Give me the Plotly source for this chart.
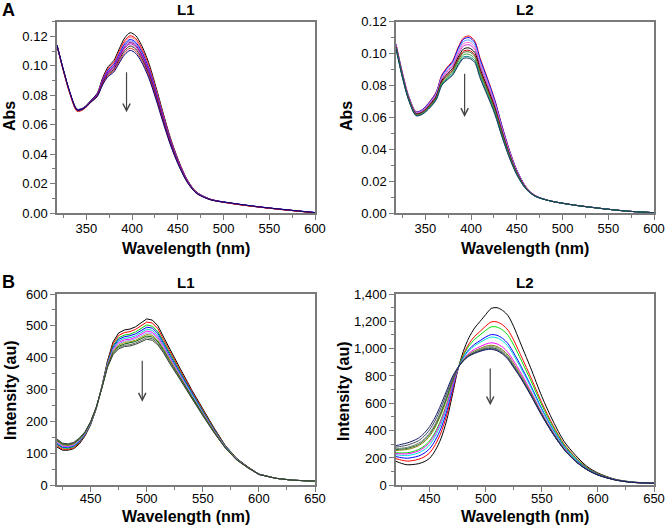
import plotly.graph_objects as go

# ---------------- Panel A : absorbance ----------------
wl_abs = [318, 325, 332, 340, 347, 355, 362, 368, 374, 380, 386, 392, 398, 404, 410,
          418, 426, 434, 442, 450, 460, 470, 485, 510, 540, 570, 600]

abs_L1_0 = [0.1140, 0.0970, 0.0820, 0.0705, 0.0715, 0.0765, 0.0815, 0.0920, 0.0995, 0.1035, 0.1115, 0.1190, 0.1225, 0.1205, 0.1145, 0.1025, 0.0860, 0.0680, 0.0510, 0.0370, 0.0230, 0.0145, 0.0095, 0.0065, 0.0040, 0.0020, 0.0002]
abs_L1_1 = [0.1135, 0.0965, 0.0812, 0.0695, 0.0708, 0.0760, 0.0808, 0.0910, 0.0984, 0.1022, 0.1099, 0.1171, 0.1205, 0.1185, 0.1126, 0.1008, 0.0846, 0.0669, 0.0502, 0.0364, 0.0227, 0.0143, 0.0094, 0.0064, 0.0040, 0.0020, 0.0002]
abs_L1_2 = [0.1138, 0.0968, 0.0815, 0.0692, 0.0706, 0.0758, 0.0806, 0.0906, 0.0978, 0.1015, 0.1091, 0.1161, 0.1195, 0.1175, 0.1116, 0.0999, 0.0839, 0.0663, 0.0498, 0.0362, 0.0226, 0.0143, 0.0094, 0.0064, 0.0040, 0.0020, 0.0002]
abs_L1_3 = [0.1140, 0.0972, 0.0820, 0.0705, 0.0714, 0.0762, 0.0808, 0.0904, 0.0972, 0.1008, 0.1081, 0.1149, 0.1180, 0.1160, 0.1104, 0.0989, 0.0830, 0.0657, 0.0494, 0.0359, 0.0225, 0.0143, 0.0095, 0.0066, 0.0041, 0.0021, 0.0003]
abs_L1_4 = [0.1140, 0.0971, 0.0819, 0.0702, 0.0712, 0.0760, 0.0804, 0.0898, 0.0965, 0.0999, 0.1071, 0.1138, 0.1170, 0.1150, 0.1093, 0.0978, 0.0821, 0.0650, 0.0488, 0.0355, 0.0222, 0.0141, 0.0094, 0.0065, 0.0041, 0.0021, 0.0003]
abs_L1_5 = [0.1141, 0.0973, 0.0821, 0.0703, 0.0713, 0.0759, 0.0802, 0.0894, 0.0959, 0.0993, 0.1063, 0.1128, 0.1160, 0.1140, 0.1083, 0.0970, 0.0814, 0.0644, 0.0484, 0.0352, 0.0220, 0.0140, 0.0093, 0.0065, 0.0041, 0.0021, 0.0003]
abs_L1_6 = [0.1139, 0.0970, 0.0818, 0.0700, 0.0710, 0.0757, 0.0800, 0.0890, 0.0954, 0.0986, 0.1055, 0.1119, 0.1150, 0.1130, 0.1074, 0.0961, 0.0807, 0.0639, 0.0480, 0.0349, 0.0219, 0.0139, 0.0093, 0.0064, 0.0040, 0.0020, 0.0002]
abs_L1_7 = [0.1140, 0.0971, 0.0820, 0.0700, 0.0710, 0.0756, 0.0797, 0.0884, 0.0945, 0.0976, 0.1043, 0.1104, 0.1135, 0.1115, 0.1059, 0.0948, 0.0797, 0.0630, 0.0474, 0.0345, 0.0216, 0.0138, 0.0092, 0.0065, 0.0040, 0.0020, 0.0002]
abs_L1_8 = [0.1136, 0.0966, 0.0812, 0.0690, 0.0703, 0.0752, 0.0794, 0.0878, 0.0937, 0.0967, 0.1031, 0.1090, 0.1120, 0.1100, 0.1045, 0.0936, 0.0786, 0.0622, 0.0468, 0.0341, 0.0214, 0.0137, 0.0092, 0.0063, 0.0039, 0.0019, 0.0002]
abs_L1_9 = [0.1140, 0.0972, 0.0821, 0.0699, 0.0709, 0.0753, 0.0791, 0.0872, 0.0929, 0.0957, 0.1019, 0.1076, 0.1105, 0.1085, 0.1031, 0.0923, 0.0776, 0.0614, 0.0462, 0.0336, 0.0212, 0.0135, 0.0091, 0.0066, 0.0041, 0.0021, 0.0003]

abs_L2_0 = [0.1060, 0.0880, 0.0730, 0.0635, 0.0650, 0.0700, 0.0760, 0.0865, 0.0915, 0.0955, 0.1040, 0.1100, 0.1110, 0.1080, 0.0970, 0.0845, 0.0710, 0.0545, 0.0395, 0.0270, 0.0165, 0.0110, 0.0078, 0.0052, 0.0030, 0.0012, 0.0002]
abs_L2_1 = [0.1058, 0.0878, 0.0728, 0.0633, 0.0648, 0.0697, 0.0756, 0.0860, 0.0909, 0.0949, 0.1032, 0.1091, 0.1100, 0.1070, 0.0961, 0.0837, 0.0704, 0.0540, 0.0391, 0.0268, 0.0164, 0.0110, 0.0078, 0.0052, 0.0030, 0.0012, 0.0002]
abs_L2_2 = [0.1055, 0.0875, 0.0726, 0.0631, 0.0645, 0.0693, 0.0751, 0.0853, 0.0901, 0.0939, 0.1019, 0.1077, 0.1085, 0.1056, 0.0948, 0.0825, 0.0694, 0.0532, 0.0386, 0.0265, 0.0162, 0.0109, 0.0078, 0.0052, 0.0030, 0.0012, 0.0002]
abs_L2_3 = [0.1051, 0.0871, 0.0723, 0.0628, 0.0641, 0.0689, 0.0746, 0.0846, 0.0892, 0.0929, 0.1007, 0.1063, 0.1070, 0.1041, 0.0934, 0.0814, 0.0684, 0.0525, 0.0381, 0.0261, 0.0161, 0.0109, 0.0078, 0.0052, 0.0030, 0.0012, 0.0002]
abs_L2_4 = [0.1048, 0.0868, 0.0720, 0.0625, 0.0638, 0.0684, 0.0740, 0.0839, 0.0884, 0.0920, 0.0995, 0.1049, 0.1055, 0.1027, 0.0921, 0.0802, 0.0675, 0.0517, 0.0375, 0.0258, 0.0159, 0.0108, 0.0078, 0.0052, 0.0030, 0.0012, 0.0002]
abs_L2_5 = [0.1044, 0.0864, 0.0717, 0.0622, 0.0634, 0.0679, 0.0733, 0.0830, 0.0872, 0.0907, 0.0978, 0.1030, 0.1035, 0.1008, 0.0903, 0.0786, 0.0662, 0.0507, 0.0368, 0.0254, 0.0157, 0.0107, 0.0078, 0.0052, 0.0030, 0.0012, 0.0002]
abs_L2_6 = [0.1041, 0.0861, 0.0714, 0.0619, 0.0631, 0.0674, 0.0728, 0.0823, 0.0864, 0.0897, 0.0966, 0.1016, 0.1020, 0.0993, 0.0890, 0.0774, 0.0652, 0.0500, 0.0363, 0.0251, 0.0155, 0.0107, 0.0078, 0.0052, 0.0030, 0.0012, 0.0002]
abs_L2_7 = [0.1039, 0.0859, 0.0712, 0.0617, 0.0629, 0.0671, 0.0724, 0.0819, 0.0858, 0.0891, 0.0958, 0.1007, 0.1010, 0.0984, 0.0881, 0.0766, 0.0646, 0.0495, 0.0359, 0.0249, 0.0154, 0.0106, 0.0078, 0.0052, 0.0030, 0.0012, 0.0002]
abs_L2_8 = [0.1035, 0.0855, 0.0709, 0.0614, 0.0625, 0.0667, 0.0719, 0.0812, 0.0849, 0.0881, 0.0946, 0.0993, 0.0995, 0.0969, 0.0867, 0.0755, 0.0636, 0.0488, 0.0354, 0.0245, 0.0153, 0.0106, 0.0078, 0.0052, 0.0030, 0.0012, 0.0002]
abs_L2_9 = [0.1032, 0.0852, 0.0707, 0.0612, 0.0622, 0.0663, 0.0714, 0.0805, 0.0841, 0.0871, 0.0933, 0.0979, 0.0980, 0.0955, 0.0854, 0.0743, 0.0626, 0.0480, 0.0349, 0.0242, 0.0151, 0.0105, 0.0078, 0.0052, 0.0030, 0.0012, 0.0002]
abs_L2_10 = [0.1030, 0.0850, 0.0705, 0.0610, 0.0620, 0.0660, 0.0710, 0.0800, 0.0835, 0.0865, 0.0925, 0.0970, 0.0970, 0.0945, 0.0845, 0.0735, 0.0620, 0.0475, 0.0345, 0.0240, 0.0150, 0.0105, 0.0078, 0.0052, 0.0030, 0.0012, 0.0002]

# ---------------- Panel B : fluorescence ----------------
wl_fl1 = [420, 425, 430, 435, 440, 445, 450, 455, 460, 465, 470, 475, 480, 485, 490, 495,
          500, 505, 510, 515, 520, 530, 540, 550, 560, 570, 580, 590, 600, 615, 630, 650]

fl_L1_0 = [120, 110, 110, 115, 130, 155, 190, 240, 310, 390, 450, 478, 487, 490, 497, 510, 522, 518, 500, 465, 430, 365, 300, 240, 180, 125, 85, 58, 35, 22, 16, 13]
fl_L1_1 = [124, 113, 113, 118, 133, 157, 192, 241, 309, 387, 444, 470, 479, 482, 489, 501, 512, 509, 491, 457, 423, 360, 296, 237, 178, 124, 84, 58, 35, 22, 16, 13]
fl_L1_2 = [128, 117, 116, 121, 135, 159, 193, 242, 308, 384, 438, 463, 471, 474, 481, 492, 503, 499, 482, 450, 417, 355, 292, 233, 176, 123, 84, 57, 35, 22, 16, 13]
fl_L1_3 = [130, 119, 118, 123, 137, 160, 194, 242, 308, 382, 434, 458, 466, 469, 475, 486, 496, 493, 476, 445, 412, 351, 289, 231, 174, 122, 83, 57, 35, 22, 16, 13]
fl_L1_4 = [132, 121, 120, 125, 139, 161, 195, 242, 307, 380, 430, 453, 461, 463, 469, 480, 490, 486, 470, 440, 407, 347, 286, 229, 172, 121, 82, 56, 34, 22, 16, 13]
fl_L1_5 = [135, 123, 122, 127, 141, 163, 196, 243, 307, 378, 426, 448, 456, 458, 464, 474, 484, 480, 464, 435, 403, 344, 283, 227, 171, 120, 82, 56, 34, 22, 16, 13]
fl_L1_6 = [137, 125, 124, 129, 142, 164, 197, 243, 307, 376, 423, 444, 452, 454, 460, 469, 478, 475, 459, 431, 399, 341, 281, 225, 170, 120, 82, 56, 34, 22, 16, 13]
fl_L1_7 = [139, 127, 125, 130, 144, 165, 198, 244, 306, 375, 420, 440, 448, 450, 455, 464, 473, 470, 454, 427, 396, 338, 279, 223, 169, 119, 81, 56, 34, 22, 16, 13]
fl_L1_8 = [141, 129, 127, 132, 145, 166, 198, 244, 306, 373, 416, 436, 443, 446, 451, 460, 468, 465, 450, 423, 392, 336, 277, 222, 167, 118, 81, 56, 34, 22, 16, 13]
fl_L1_9 = [143, 130, 128, 133, 147, 167, 199, 245, 305, 372, 413, 432, 439, 441, 446, 455, 463, 460, 445, 419, 389, 333, 274, 220, 166, 118, 80, 55, 34, 22, 16, 13]
fl_L1_10 = [145, 132, 130, 135, 148, 168, 200, 245, 305, 370, 410, 428, 435, 437, 442, 450, 458, 455, 440, 415, 385, 330, 272, 218, 165, 117, 80, 55, 34, 22, 16, 13]

wl_fl2 = [420, 425, 430, 435, 440, 445, 450, 455, 460, 465, 470, 475, 480, 485, 490, 495,
          500, 505, 510, 515, 520, 525, 530, 540, 550, 560, 570, 580, 590, 600, 615, 630, 650]

fl_L2_0 = [175, 160, 150, 152, 158, 172, 198, 255, 340, 470, 650, 840, 980, 1080, 1150, 1200, 1250, 1295, 1300, 1280, 1240, 1160, 1060, 860, 650, 470, 320, 220, 140, 90, 45, 25, 15]
fl_L2_1 = [195, 184, 177, 181, 190, 207, 237, 297, 383, 507, 674, 843, 957, 1035, 1089, 1127, 1165, 1196, 1196, 1174, 1134, 1061, 974, 794, 604, 439, 300, 205, 132, 85, 43, 24, 15]
fl_L2_2 = [238, 237, 238, 247, 261, 286, 326, 390, 478, 591, 727, 851, 948, 1019, 1067, 1101, 1134, 1160, 1158, 1136, 1096, 1025, 943, 770, 587, 427, 293, 200, 129, 83, 43, 24, 15]
fl_L2_3 = [210, 202, 198, 204, 214, 234, 268, 329, 415, 536, 692, 846, 935, 994, 1032, 1059, 1085, 1103, 1098, 1075, 1035, 968, 894, 732, 560, 409, 282, 191, 124, 80, 42, 23, 15]
fl_L2_4 = [223, 219, 217, 225, 237, 259, 295, 358, 445, 562, 709, 848, 931, 985, 1020, 1046, 1069, 1085, 1079, 1056, 1016, 950, 878, 720, 552, 403, 278, 188, 122, 79, 41, 23, 15]
fl_L2_5 = [232, 230, 230, 238, 251, 276, 314, 377, 465, 580, 720, 850, 921, 967, 995, 1015, 1033, 1043, 1035, 1011, 971, 908, 842, 692, 532, 390, 270, 182, 119, 77, 41, 22, 15]
fl_L2_6 = [255, 258, 262, 273, 289, 318, 360, 426, 515, 624, 748, 854, 917, 958, 983, 1002, 1018, 1025, 1016, 992, 952, 890, 826, 680, 524, 384, 266, 179, 117, 76, 40, 22, 15]
fl_L2_7 = [267, 272, 278, 290, 308, 338, 384, 451, 540, 646, 762, 856, 915, 954, 978, 995, 1010, 1016, 1007, 982, 942, 881, 818, 674, 520, 382, 264, 178, 117, 76, 40, 22, 15]
fl_L2_8 = [261, 265, 270, 282, 298, 328, 372, 439, 528, 635, 755, 855, 913, 950, 972, 989, 1002, 1007, 998, 973, 933, 872, 810, 668, 516, 379, 262, 177, 116, 76, 40, 22, 15]
fl_L2_9 = [279, 286, 294, 308, 326, 359, 407, 476, 565, 668, 776, 858, 911, 948, 969, 984, 997, 1001, 991, 966, 926, 866, 805, 664, 513, 377, 261, 176, 116, 75, 40, 22, 15]
fl_L2_10 = [290, 300, 310, 325, 345, 380, 430, 500, 590, 690, 790, 860, 910, 945, 965, 980, 992, 995, 985, 960, 920, 860, 800, 660, 510, 375, 260, 175, 115, 75, 40, 22, 15]

# arrows: (x, y_start, y_end)
arrow_A1 = (394, 0.0966, 0.0684)
arrow_A2 = (393, 0.0883, 0.0602)
arrow_B1 = (496, 395, 262)
arrow_B2 = (504, 865, 585)

# ---------------- figure ----------------
series = [
    ("x", "y", wl_abs, [abs_L1_0, abs_L1_1, abs_L1_2, abs_L1_3, abs_L1_4, abs_L1_5, abs_L1_6, abs_L1_7, abs_L1_8, abs_L1_9],
     ["#000000", "#ff0000", "#ff7070", "#0000ff", "#6a6aff", "#7f007f", "#c000c0", "#222222", "#d03030", "#000080"], "spline"),
    ("x2", "y2", wl_abs, [abs_L2_0, abs_L2_1, abs_L2_2, abs_L2_3, abs_L2_4, abs_L2_5, abs_L2_6, abs_L2_7, abs_L2_8, abs_L2_9, abs_L2_10],
     ["#ff0000", "#0000ff", "#4da6ff", "#ff66cc", "#cc33cc", "#000000", "#cc0000", "#556b2f", "#33aa33", "#008080", "#1f3a60"], "spline"),
    ("x3", "y3", wl_fl1, [fl_L1_0, fl_L1_1, fl_L1_2, fl_L1_3, fl_L1_4, fl_L1_5, fl_L1_6, fl_L1_7, fl_L1_8, fl_L1_9, fl_L1_10],
     ["#000000", "#ff0000", "#00cc00", "#0000ff", "#00cccc", "#ff00ff", "#9999ff", "#999900", "#006400", "#666666", "#334433"], "linear"),
    ("x4", "y4", wl_fl2, [fl_L2_0, fl_L2_1, fl_L2_2, fl_L2_3, fl_L2_4, fl_L2_5, fl_L2_6, fl_L2_7, fl_L2_8, fl_L2_9, fl_L2_10],
     ["#000000", "#ff0000", "#00dd00", "#0000ff", "#00dddd", "#ff00ff", "#808000", "#808080", "#2e6b2e", "#405060", "#1a1a66"], "spline"),
]

fig = go.Figure()
for xa, ya, xs, ys_list, cols, shape in series:
    for ys, c in zip(ys_list, cols):
        fig.add_trace(go.Scatter(x=xs, y=ys, xaxis=xa, yaxis=ya, mode="lines",
                                 line=dict(color=c, width=1, shape=shape, smoothing=0.8),
                                 showlegend=False, hoverinfo="skip"))

W, H = 665, 530
def px(x):
    return x / W
def py(y):
    return 1 - y / H

FONT = "Liberation Sans, Arial, sans-serif"
axis_common = dict(showline=True, linecolor="#7a7a7a", linewidth=1.5, mirror=True,
                   ticks="outside", ticklen=5, tickwidth=1, tickcolor="#7a7a7a",
                   showgrid=False, zeroline=False, automargin=False,
                   tickfont=dict(family=FONT, size=13, color="#000000"))

xA1 = [px(57), px(315)]
xA2 = [px(396), px(654)]
yA = [py(213), py(21.7)]
yB = [py(485.3), py(294)]

fig.update_layout(
    width=W, height=H, template="none",
    margin=dict(l=0, r=0, t=0, b=0),
    paper_bgcolor="white", plot_bgcolor="white",
    showlegend=False,
    xaxis=dict(domain=xA1, anchor="y", range=[318, 600], dtick=50, tick0=300, ticklabelstandoff=-2,
               minor=dict(ticks="outside", ticklen=3, dtick=25, tick0=300, tickcolor="#7a7a7a"), **axis_common),
    yaxis=dict(domain=yA, anchor="x", range=[0, 0.13], dtick=0.02, tickformat=".2f",
               minor=dict(ticks="outside", ticklen=3, dtick=0.01, tickcolor="#7a7a7a"), **axis_common),
    xaxis2=dict(domain=xA2, anchor="y2", range=[318, 600], dtick=50, tick0=300, ticklabelstandoff=-2,
                minor=dict(ticks="outside", ticklen=3, dtick=25, tick0=300, tickcolor="#7a7a7a"), **axis_common),
    yaxis2=dict(domain=yA, anchor="x2", range=[0, 0.12], dtick=0.02, tickformat=".2f",
                minor=dict(ticks="outside", ticklen=3, dtick=0.01, tickcolor="#7a7a7a"), **axis_common),
    xaxis3=dict(domain=xA1, anchor="y3", range=[420, 650], dtick=50, tick0=400, ticklabelstandoff=-5,
                minor=dict(ticks="outside", ticklen=3, dtick=25, tick0=400, tickcolor="#7a7a7a"), **axis_common),
    yaxis3=dict(domain=yB, anchor="x3", range=[0, 600], dtick=100,
                minor=dict(ticks="outside", ticklen=3, dtick=50, tickcolor="#7a7a7a"), **axis_common),
    xaxis4=dict(domain=xA2, anchor="y4", range=[420, 650], dtick=50, tick0=400, ticklabelstandoff=-5,
                minor=dict(ticks="outside", ticklen=3, dtick=25, tick0=400, tickcolor="#7a7a7a"), **axis_common),
    yaxis4=dict(domain=yB, anchor="x4", range=[0, 1400], dtick=200, tickformat=",d",
                minor=dict(ticks="outside", ticklen=3, dtick=100, tickcolor="#7a7a7a"), **axis_common),
)

ann = []
def text(x, y, s, size, angle=0):
    ann.append(dict(x=px(x), y=py(y), xref="paper", yref="paper", text=s, showarrow=False,
                    textangle=angle, xanchor="center", yanchor="middle",
                    font=dict(family=FONT, size=size, color="#000000", weight="bold")))

text(8, 10, "A", 18)
text(8, 282, "B", 18)
text(186, 10, "L1", 15)
text(525, 10, "L2", 15)
text(186, 282, "L1", 15)
text(525, 282, "L2", 15)
text(10, 116, "Abs", 16, -90)
text(347, 116, "Abs", 16, -90)
text(10, 390, "Intensity (au)", 16, -90)
text(343, 391, "Intensity (au)", 16, -90)
text(186, 248, "Wavelength (nm)", 16)
text(525, 248, "Wavelength (nm)", 16)
text(186, 516, "Wavelength (nm)", 16)
text(525, 516, "Wavelength (nm)", 16)

for (ax_x, ax_y), (xv, y0, y1) in zip([("x", "y"), ("x2", "y2"), ("x3", "y3"), ("x4", "y4")],
                                       [arrow_A1, arrow_A2, arrow_B1, arrow_B2]):
    ann.append(dict(x=xv, y=y1, ax=xv, ay=y0, xref=ax_x, yref=ax_y, axref=ax_x, ayref=ax_y,
                    showarrow=True, arrowhead=5, arrowsize=1.2, arrowwidth=1.2,
                    arrowcolor="#444444", text=""))

fig.update_layout(annotations=ann)
fig.write_html("out.html", config={"displayModeBar": False},
               post_script="document.body.style.margin='0';document.body.style.overflow='hidden';")
